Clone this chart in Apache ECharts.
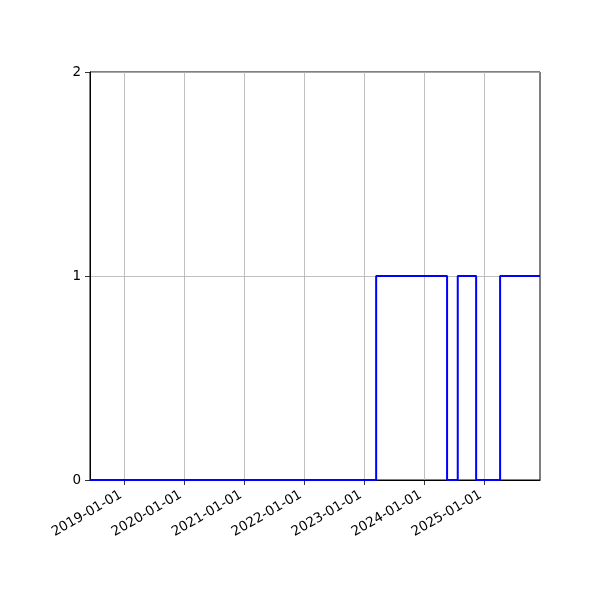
<!DOCTYPE html>
<html>
<head>
<meta charset="utf-8">
<script src="https://cdn.jsdelivr.net/npm/echarts@6/dist/echarts.min.js"></script>
<style>html,body{margin:0;padding:0;background:#fff}#c{width:600px;height:600px}</style>
</head>
<body>
<div id="c"></div>
<script>
// Step change points (value holds until next date)
var stepDates = ['2018-06-06','2023-03-15','2024-05-20','2024-07-24','2024-11-13','2025-04-08','2025-12-07'];
var stepValues = [0, 1, 0, 1, 0, 1, 1];
var xTickLabels = ['2019-01-01','2020-01-01','2021-01-01','2022-01-01','2023-01-01','2024-01-01','2025-01-01'];
var yTicks = [0, 1, 2];

function ts(s){ var p = s.split('-'); return Date.UTC(+p[0], +p[1]-1, +p[2]); }
var xTickVals = xTickLabels.map(ts);
var labelByTs = {};
xTickLabels.forEach(function(l){ labelByTs[ts(l)] = l; });

var chart = echarts.init(document.getElementById('c'));
var font = 'DejaVu Sans';
chart.setOption({
  animation: false,
  grid: { left: 90, right: 60, top: 72, bottom: 120, show: true, borderColor: '#000', borderWidth: 1, backgroundColor: 'transparent' },
  xAxis: {
    type: 'value',
    min: ts(stepDates[0]),
    max: ts(stepDates[stepDates.length-1]),
    axisLine: { show: true, onZero: false, lineStyle: { color: '#000', width: 1 } },
    axisTick: { show: true, length: 5, lineStyle: { color: '#000', width: 0.8 }, customValues: xTickVals },
    axisLabel: {
      customValues: xTickVals,
      rotate: 30, margin: 12, padding: [0, 4, 0, 0], color: '#000', fontFamily: font, fontSize: 13.5,
      formatter: function(v){ return labelByTs[v] || ''; }
    },
    splitLine: { show: true, lineStyle: { color: '#b0b0b0', width: 0.8 } }
  },
  yAxis: {
    type: 'value', min: yTicks[0], max: yTicks[yTicks.length-1], interval: 1,
    axisLine: { show: true, lineStyle: { color: '#000', width: 1 } },
    axisTick: { show: true, length: 5, lineStyle: { color: '#000', width: 0.8 } },
    axisLabel: { margin: 9, color: '#000', fontFamily: font, fontSize: 13.5 },
    splitLine: { show: true, lineStyle: { color: '#b0b0b0', width: 0.8 } }
  },
  series: [{
    type: 'line',
    step: 'end',
    symbol: 'none',
    data: stepDates.map(function(d, i){ return [ts(d), stepValues[i]]; }),
    lineStyle: { color: '#0000ff', width: 2 },
    z: 3
  }]
});
</script>
</body>
</html>
